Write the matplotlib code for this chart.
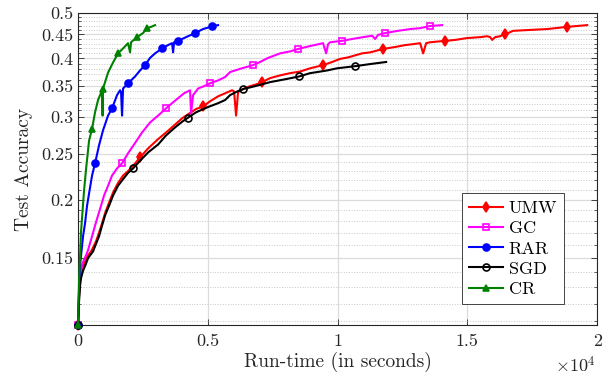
import numpy as np
import matplotlib
matplotlib.use("Agg")
import matplotlib.pyplot as plt
from matplotlib.ticker import FixedLocator, NullFormatter

# ---- data (run-time in seconds, test accuracy) ----
umw_t = [0, 38, 77, 116, 193, 308, 385, 501, 578, 694, 809, 925, 1041, 1195, 1349,
         1541, 1734, 1927, 2120, 2389, 2698, 3083, 3391, 3738, 4008, 4239, 4548, 4817,
         5087, 5396, 5665, 5935, 6012, 6089, 6166, 6398, 6629, 6860, 7091, 7399, 7785,
         8170, 8555, 8941, 9442, 9789, 10097, 10405, 10675, 10945, 11253, 11754, 12217,
         12602, 12911, 13180, 13296, 13412, 13566, 14144, 14530, 14992, 15493, 15763,
         15879, 15956, 16071, 16264, 16456, 16572, 16765, 17420, 18075, 18846, 19616]
umw_acc = [0.108, 0.124, 0.134, 0.139, 0.144, 0.149, 0.152, 0.155, 0.158, 0.163, 0.170,
           0.178, 0.187, 0.197, 0.207, 0.217, 0.225, 0.230, 0.236, 0.246, 0.257, 0.269,
           0.278, 0.289, 0.298, 0.304, 0.312, 0.316, 0.324, 0.332, 0.337, 0.342, 0.340,
           0.302, 0.339, 0.345, 0.349, 0.352, 0.356, 0.363, 0.368, 0.372, 0.375, 0.381,
           0.387, 0.393, 0.399, 0.402, 0.406, 0.410, 0.412, 0.419, 0.423, 0.427, 0.429,
           0.431, 0.410, 0.431, 0.433, 0.436, 0.438, 0.442, 0.444, 0.446, 0.444, 0.438,
           0.444, 0.446, 0.451, 0.453, 0.458, 0.460, 0.462, 0.467, 0.471]
umw_marks = [0, 19, 27, 38, 44, 51, 59, 68, 73]

gc_t = [0, 38, 77, 154, 231, 308, 385, 540, 655, 771, 886, 1002, 1156, 1310, 1503, 1696,
        1927, 2197, 2467, 2775, 3083, 3391, 3623, 3854, 4085, 4316, 4355, 4432, 4625,
        4856, 5087, 5396, 5665, 5858, 6243, 6745, 7014, 7323, 7785, 8171, 8479, 8941,
        9442, 9558, 9635, 9712, 10175, 10560, 10984, 11331, 11446, 11562, 11832, 12333,
        12795, 13180, 13566, 14028]
gc_acc = [0.108, 0.127, 0.137, 0.145, 0.149, 0.152, 0.156, 0.167, 0.176, 0.185, 0.194,
          0.204, 0.214, 0.225, 0.233, 0.239, 0.251, 0.264, 0.278, 0.292, 0.302, 0.313,
          0.321, 0.329, 0.337, 0.342, 0.305, 0.334, 0.345, 0.349, 0.354, 0.359, 0.365,
          0.374, 0.380, 0.387, 0.393, 0.401, 0.410, 0.414, 0.419, 0.425, 0.431, 0.410,
          0.429, 0.433, 0.436, 0.440, 0.444, 0.447, 0.440, 0.449, 0.453, 0.458, 0.462,
          0.464, 0.469, 0.471]
gc_marks = [0, 15, 21, 30, 35, 40, 46, 52, 56]

rar_t = [0, 38, 77, 116, 193, 270, 347, 424, 540, 655, 809, 963, 1156, 1310, 1503, 1619,
         1657, 1696, 1734, 1927, 2197, 2389, 2582, 2775, 2967, 3237, 3468, 3623, 3661,
         3700, 3854, 4162, 4509, 4817, 5164, 5396]
rar_acc = [0.108, 0.127, 0.144, 0.152, 0.167, 0.178, 0.194, 0.206, 0.225, 0.239, 0.261,
           0.281, 0.302, 0.313, 0.334, 0.342, 0.339, 0.302, 0.345, 0.354, 0.366, 0.377,
           0.387, 0.401, 0.410, 0.420, 0.427, 0.431, 0.412, 0.433, 0.436, 0.444, 0.453,
           0.462, 0.468, 0.471]
rar_marks = [0, 9, 13, 19, 22, 25, 30, 32, 34]

sgd_t = [0, 38, 77, 116, 193, 308, 385, 501, 578, 694, 809, 925, 1041, 1195, 1349, 1541,
         1734, 1927, 2120, 2389, 2698, 3083, 3391, 3738, 4008, 4239, 4548, 5010, 5396,
         5665, 5858, 6128, 6359, 6821, 7399, 7978, 8517, 8941, 9211, 9596, 9981, 10328,
         10675, 11253, 11870]
sgd_acc = [0.108, 0.121, 0.131, 0.136, 0.141, 0.146, 0.150, 0.153, 0.155, 0.161, 0.167,
           0.176, 0.185, 0.194, 0.204, 0.214, 0.221, 0.228, 0.233, 0.242, 0.252, 0.262,
           0.274, 0.285, 0.293, 0.299, 0.307, 0.315, 0.321, 0.326, 0.334, 0.340, 0.344,
           0.349, 0.356, 0.361, 0.366, 0.372, 0.374, 0.377, 0.381, 0.383, 0.385, 0.389,
           0.393]
sgd_marks = [0, 18, 25, 32, 36, 42]

cr_t = [0, 38, 116, 231, 308, 424, 540, 655, 771, 925, 945, 963, 1156, 1349, 1541, 1734,
        1927, 2004, 2042, 2274, 2505, 2659, 2813, 2967]
cr_acc = [0.108, 0.134, 0.171, 0.209, 0.232, 0.267, 0.283, 0.307, 0.326, 0.342, 0.302,
          0.345, 0.373, 0.392, 0.410, 0.420, 0.431, 0.412, 0.433, 0.444, 0.453, 0.464,
          0.467, 0.471]
cr_marks = [0, 6, 11, 14, 19, 21]

y_ticks = [0.15, 0.2, 0.25, 0.3, 0.35, 0.4, 0.45, 0.5]
y_labels = ["0.15", "0.2", "0.25", "0.3", "0.35", "0.4", "0.45", "0.5"]
x_ticks = [0, 5000, 10000, 15000, 20000]
x_labels = ["0", "0.5", "1", "1.5", "2"]

plt.rcParams['font.family'] = 'serif'
plt.rcParams['font.serif'] = ['cmr10']
plt.rcParams['mathtext.fontset'] = 'cm'
plt.rcParams['axes.unicode_minus'] = False

fig = plt.figure(figsize=(6.05, 3.81), dpi=100)
ax = fig.add_axes([0.129, 0.147, 0.858, 0.819])

series = [
    ("UMW", umw_t, umw_acc, umw_marks, "#ff0000", "d", "#ff0000"),
    ("GC", gc_t, gc_acc, gc_marks, "#ff00ff", "s", "none"),
    ("RAR", rar_t, rar_acc, rar_marks, "#0000ff", "o", "#0000ff"),
    ("SGD", sgd_t, sgd_acc, sgd_marks, "#000000", "o", "none"),
    ("CR", cr_t, cr_acc, cr_marks, "#008000", "^", "#008000"),
]
for name, t, acc, marks, col, mk, fc in series:
    ax.plot(t, acc, color=col, lw=1.5, marker=mk, markevery=marks, ms=5,
            mfc=fc, mec=col, mew=1.2, label=name, clip_on=False, zorder=3)

ax.set_yscale('log')
ax.set_ylim(0.108, 0.5)
ax.set_xlim(0, 20000)
ax.yaxis.set_major_locator(FixedLocator(y_ticks))
ax.set_yticklabels(y_labels)
minor = [v / 100 for v in range(11, 50) if v % 5 != 0]
ax.yaxis.set_minor_locator(FixedLocator(minor))
ax.yaxis.set_minor_formatter(NullFormatter())
ax.set_xticks(x_ticks)
ax.set_xticklabels(x_labels)

ax.grid(True, which='major', color='#dcdcdc', lw=0.9, ls='-')
ax.grid(True, which='minor', axis='y', color='#c8c8c8', lw=0.7, ls=':')
ax.set_axisbelow(True)

ax.tick_params(which='both', direction='in', top=True, right=True,
               labelsize=13, colors='#262626', labelcolor='#262626')
ax.tick_params(which='major', length=4, width=0.6)
ax.tick_params(which='minor', length=2.5, width=0.5)
ax.tick_params(axis='x', which='minor', bottom=False, top=False)
ax.tick_params(axis='x', pad=6)
for s in ax.spines.values():
    s.set_color('#262626')
    s.set_linewidth(0.8)

ax.set_xlabel("Run-time (in seconds)", fontsize=14, color='#262626', labelpad=2)
ax.set_ylabel("Test Accuracy", fontsize=14, color='#262626', labelpad=6)
ax.text(0.997, -0.097, r"$\times 10^4$", transform=ax.transAxes, ha='right', va='top',
        fontsize=13, color='#262626')

leg = ax.legend(loc='lower right', bbox_to_anchor=(0.937, 0.067), borderaxespad=0,
                fancybox=False, framealpha=1, edgecolor='#262626', fontsize=13,
                handlelength=1.9, handletextpad=0.3, labelspacing=0.25,
                borderpad=0.4)
leg.get_frame().set_linewidth(0.6)
leg.set_zorder(5)

fig.savefig("out.png", dpi=100)
